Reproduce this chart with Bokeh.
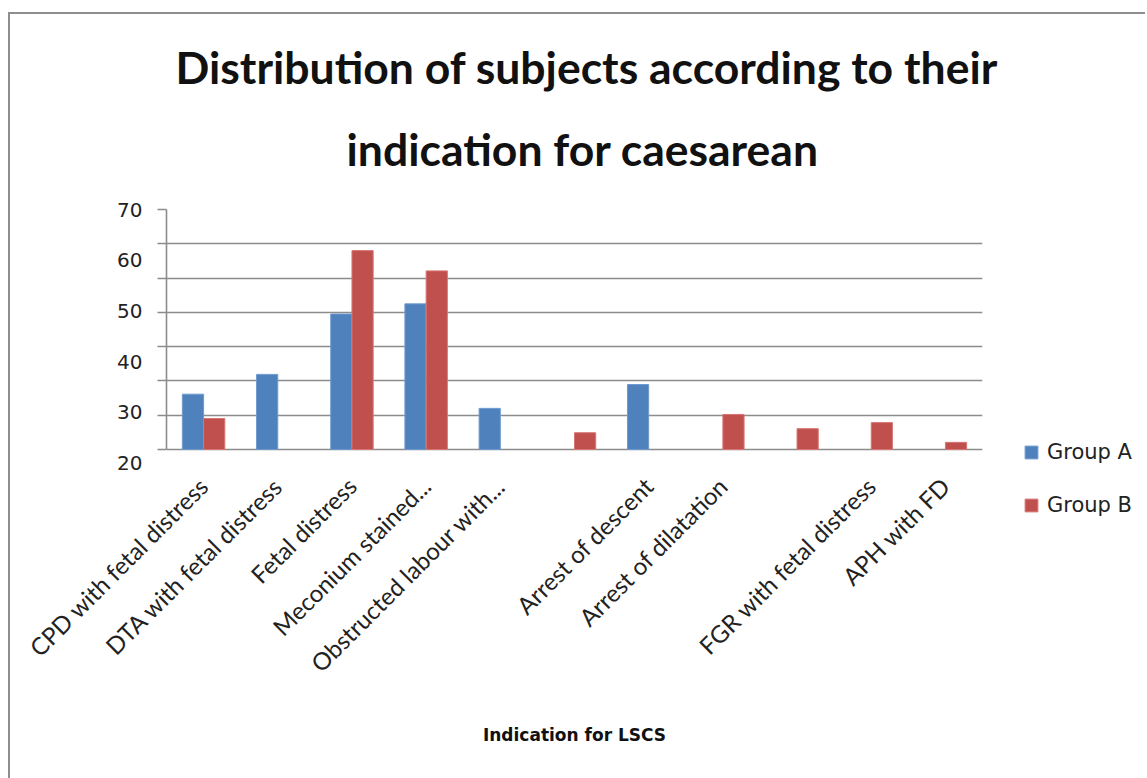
import numpy as np
from bokeh.plotting import figure
from bokeh.layouts import row
from bokeh.models import (FactorRange, Range1d, LinearAxis, FixedTicker, Title,
                          ColumnDataSource)
from bokeh.transform import dodge
from bokeh.embed import file_html
from bokeh.resources import INLINE

# ---- data ----
categories = ["CPD with fetal distress", "DTA with fetal distress", "Fetal distress",
              "Meconium stained...", "Obstructed labour with...", " ",
              "Arrest of descent", "Arrest of dilatation", "  ",
              "FGR with fetal distress", "APH with FD"]
group_a = [33.6, 37.5, 49.4, 51.4, 30.8, None, 35.5, None, None, None, None]
group_b = [28.8, None, 61.9, 57.9, None, 26.0, None, 29.6, 26.8, 28.0, 24.1]
y_tick_values = [20, 30, 40, 50, 60, 70]
y_min, y_max = 22.7, 70        # value axis: floor (baseline) and ceiling
y_view_floor = 8.7             # frame extends below the baseline (room for legend)

title_line1 = "Distribution of subjects according to their"
title_line2 = "indication for caesarean"
x_title = "Indication for LSCS"
series_names = ["Group A", "Group B"]

BLUE = "#4F81BD"
RED = "#C0504D"
GRID = "#8C8C8C"
TXT = "#222222"

src = ColumnDataSource(dict(cat=categories,
                            a=np.array(group_a, dtype=float),
                            b=np.array(group_b, dtype=float)))

p = figure(width=1012, height=764, x_range=FactorRange(*categories),
           y_range=Range1d(y_view_floor, y_max), output_backend="svg",
           toolbar_location=None, y_axis_location=None,
           min_border_left=156, min_border_right=40,
           min_border_top=195, min_border_bottom=258)
p.x_range.range_padding = 0
p.outline_line_color = None
p.background_fill_color = "white"
p.border_fill_color = "white"

bw = 0.286
p.vbar(x=dodge("cat", -bw / 2, range=p.x_range), top="a", bottom=y_min, width=bw,
       source=src, fill_color=BLUE, line_color="#6E9AD0", line_width=1)
p.vbar(x=dodge("cat", bw / 2, range=p.x_range), top="b", bottom=y_min, width=bw,
       source=src, fill_color=RED, line_color="#D77774", line_width=1)

# grid: 8 evenly spaced lines from baseline to top
grid_ticks = list(np.linspace(y_min, y_max, 8))
p.xgrid.grid_line_color = None
p.ygrid.ticker = FixedTicker(ticks=grid_ticks)
p.ygrid.grid_line_color = GRID
p.ygrid.grid_line_width = 1.6

# axis line + tick marks at grid lines
tick_axis = LinearAxis(ticker=FixedTicker(ticks=grid_ticks), bounds=(y_min, y_max),
                       major_label_overrides={t: "" for t in grid_ticks},
                       major_tick_out=9, major_tick_in=0, minor_tick_line_color=None,
                       major_tick_line_color=GRID, axis_line_color=GRID,
                       axis_line_width=1.6, major_tick_line_width=1.6,
                       major_label_standoff=0)
p.add_layout(tick_axis, "left")
# numeric labels
label_axis = LinearAxis(ticker=FixedTicker(ticks=y_tick_values),
                        major_tick_out=0, major_tick_in=0, minor_tick_line_color=None,
                        axis_line_color=None, major_tick_line_color=None,
                        major_label_standoff=15,
                        major_label_text_font="DejaVu Sans",
                        major_label_text_font_size="20px",
                        major_label_text_color=TXT)
p.add_layout(label_axis, "left")

# category axis (its line is hidden; the baseline grid line plays that role)
xa = p.xaxis[0]
xa.major_label_orientation = np.pi / 4
xa.major_label_text_font = "Lato"
xa.major_label_text_font_size = "24px"
xa.major_label_text_color = TXT
xa.major_tick_line_color = None
xa.minor_tick_line_color = None
xa.axis_line_color = None
xa.major_label_standoff = -45
xa.axis_label = x_title
xa.axis_label_text_font = "DejaVu Sans"
xa.axis_label_text_font_style = "bold"
xa.axis_label_text_font_size = "17px"
xa.axis_label_text_color = "#111111"
xa.axis_label_standoff = 35

# two-line title
p.add_layout(Title(text=title_line2, align="left", text_font="Lato",
                   text_font_style="bold", text_font_size="44.5px", offset=180,
                   text_color="#111111", standoff=70), "above")
p.add_layout(Title(text=title_line1, align="left", text_font="Lato",
                   text_font_style="bold", text_font_size="44.5px", offset=9,
                   text_color="#111111", standoff=-17), "above")

# legend panel to the right (its frame aligns with the main frame)
lp = figure(width=123, height=764, x_range=Range1d(0, 1), y_range=Range1d(0, 1),
            output_backend="svg", toolbar_location=None,
            x_axis_location=None, y_axis_location=None, min_border=0)
lp.grid.visible = False
lp.outline_line_color = None
lp.background_fill_color = "white"
lp.border_fill_color = "white"
for name, col, edge in zip(series_names, [BLUE, RED], ["#6E9AD0", "#D77774"]):
    lp.vbar(x=[np.nan], top=[np.nan], width=0.1, fill_color=col, line_color=edge,
            legend_label=name)
leg = lp.legend[0]
leg.border_line_color = None
leg.background_fill_alpha = 0
leg.label_text_font = "DejaVu Sans"
leg.label_text_font_size = "21px"
leg.label_text_color = TXT
leg.glyph_width = 16
leg.glyph_height = 16
leg.label_height = 20
leg.label_standoff = 8
leg.spacing = 29
leg.padding = 0
leg.margin = 0
leg.location = (1, 3)

layout = row(p, lp, margin=(12, 0, 0, 8),
             styles={"border-left": "2px solid #8E8E8E",
                     "border-top": "2px solid #8E8E8E"})

open("out.html", "w").write(file_html(layout, INLINE))
